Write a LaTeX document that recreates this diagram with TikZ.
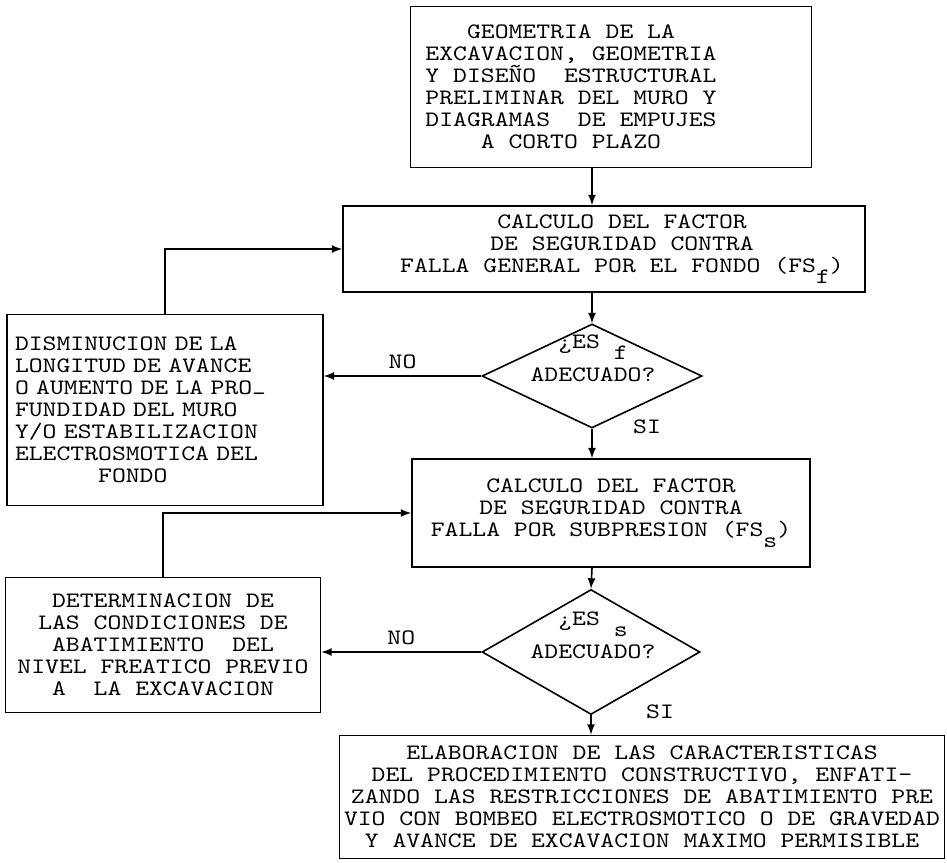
\documentclass[tikz,border=0pt]{standalone}
\usepackage{fontspec}
\setmonofont[FakeStretch=1.2]{lmmono10-regular.otf}
\usetikzlibrary{shapes.geometric}

\begin{document}
\begin{tikzpicture}[
    x=0.5pt, y=-0.5pt,
    every node/.style={font=\ttfamily\fontsize{11pt}{11pt}\selectfont},
    block/.style={rectangle, draw, line width=0.8pt, align=center, inner sep=0pt},
    decision/.style={diamond, draw, line width=0.8pt, inner sep=0pt},
    flow/.style={draw, line width=0.8pt, -latex}
    ]

\useasboundingbox (0,0) rectangle (947,862);

% main column
\node[block, minimum width=200.5pt, minimum height=80.5pt] (geo) at (611,87) {};
\node[align=center] (geotext) at (571,87)
    {GEOMETRIA DE LA\\EXCAVACION, GEOMETRIA\\Y DISEÑO\ \ ESTRUCTURAL\\PRELIMINAR DEL MURO Y\\DIAGRAMAS\ \ DE EMPUJES\\A CORTO PLAZO};
\node[block, minimum width=261pt, minimum height=43pt] (fsf) at (604,249) {};
\node[align=center] (fsftext) at (622,249)
    {CALCULO DEL FACTOR\\DE SEGURIDAD CONTRA\\FALLA GENERAL POR EL FONDO (FS\raisebox{-1.1ex}{f})};
\node[decision, minimum width=110pt, minimum height=52pt] (dec1) at (592,376) {};
\node[align=center] (q1) at (593,358) {¿ES\ \raisebox{-1.2ex}{f}\\[3pt]ADECUADO?};
\node[block, minimum width=199pt, minimum height=54pt] (fss) at (611,513)
    {CALCULO DEL FACTOR\\DE SEGURIDAD CONTRA\\FALLA POR SUBPRESION (FS\raisebox{-1.1ex}{s})};
\node[decision, minimum width=109pt, minimum height=62.5pt] (dec2) at (591,652) {};
\node[align=center] (q2) at (593,635) {¿ES\ \raisebox{-1.2ex}{s}\\[3pt]ADECUADO?};
\node[block, minimum width=302.5pt, minimum height=61.5pt] (elab) at (642,797)
    {ELABORACION DE LAS CARACTERISTICAS\\DEL PROCEDIMIENTO CONSTRUCTIVO, ENFATI-\\ZANDO LAS RESTRICCIONES DE ABATIMIENTO PRE\\VIO CON BOMBEO ELECTROSMOTICO O DE GRAVEDAD\\Y AVANCE DE EXCAVACION MAXIMO PERMISIBLE};

% left column
\node[block, align=left, text width=150pt, minimum width=158pt, minimum height=95.5pt] (dism) at (165,410)
    {DISMINUCION DE LA\\LONGITUD DE AVANCE\\O AUMENTO DE LA PRO\raisebox{-0.6ex}{-}\\FUNDIDAD DEL MURO\\Y/O ESTABILIZACION\\ELECTROSMOTICA DEL\\\phantom{XXXXXX}FONDO};
\node[block, minimum width=157.5pt, minimum height=67.5pt] (det) at (163,645)
    {DETERMINACION DE\\LAS CONDICIONES DE\\ABATIMIENTO\ \ DEL\\NIVEL FREATICO PREVIO\\A\ \ LA EXCAVACION};

% connectors
\draw[flow] (dec1 |- geo.south) -- (dec1 |- fsf.north);
\draw[flow] (dec1 |- fsf.south) -- (dec1.north);
\draw[flow] (dec1.west) -- node[above] (no1) {NO} (dec1.west -| dism.east);
\draw[flow] (dism.north) |- (fsf.west);
\draw[flow] (dec1.south) -- (dec1 |- fss.north);
\node (si1) at (647,427) {SI};
\draw[flow] (dec1 |- fss.south) -- (dec2.north);
\draw[flow] (dec2.west) -- node[above] (no2) {NO} (dec2.west -| det.east);
\draw[flow] (det.north) |- (fss.west);
\draw[flow] (dec2.south) -- (dec2 |- elab.north);
\node (si2) at (660,712) {SI};
\end{tikzpicture}
\end{document}
